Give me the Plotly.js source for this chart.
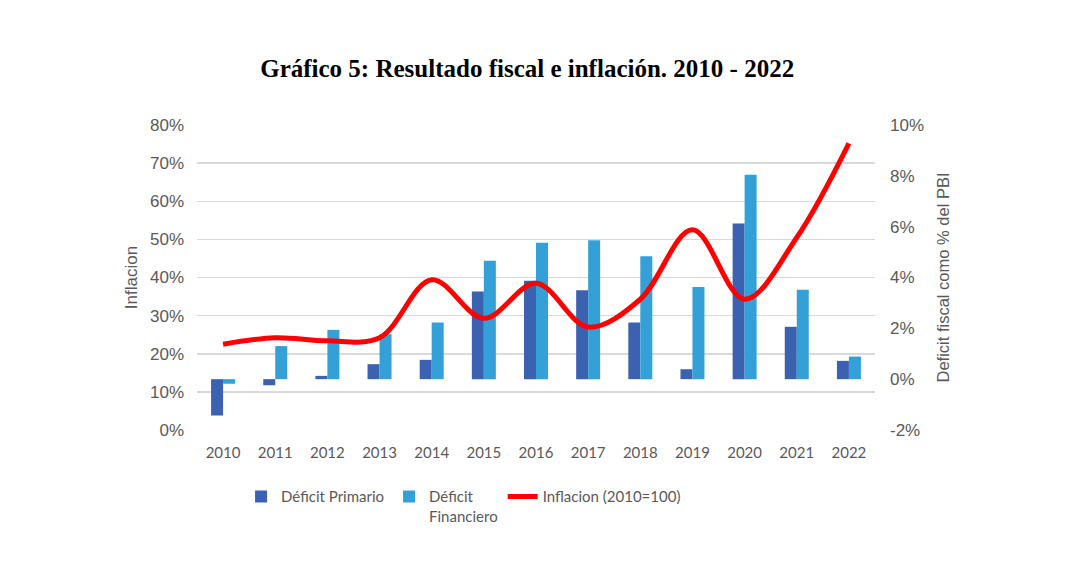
<!DOCTYPE html>
<html>
<head>
<meta charset="utf-8">
<script src="https://cdn.plot.ly/plotly-3.0.1.min.js"></script>
<style>html,body{margin:0;padding:0;background:#fff;}#chart{width:1080px;height:576px;}</style>
</head>
<body>
<div id="chart"></div>
<script>
const years = ['2010','2011','2012','2013','2014','2015','2016','2017','2018','2019','2020','2021','2022'];
const deficitPrimario = [-1.43, -0.24, 0.13, 0.59, 0.76, 3.45, 3.87, 3.50, 2.23, 0.39, 6.12, 2.06, 0.72];
const deficitFinanciero = [-0.18, 1.30, 1.94, 1.77, 2.23, 4.66, 5.37, 5.47, 4.84, 3.63, 8.04, 3.52, 0.89];
const inflacion = [22.5, 24.2, 23.4, 24.2, 39.4, 29.3, 38.5, 27.0, 34.3, 52.5, 34.3, 50.5, 75.2];
const leftTicks = [0,10,20,30,40,50,60,70,80];
const rightTicks = [-2,0,2,4,6,8,10];

const gray = '#595959';
const narrow = 'Lato, "Open Sans", sans-serif';
const arial = '"Liberation Sans", Arial, sans-serif';

const traces = [
  {type:'bar', name:'Déficit Primario', x:years, y:deficitPrimario, xaxis:'x', yaxis:'y',
   marker:{color:'#3A62B0'}},
  {type:'bar', name:'Déficit<br>Financiero', x:years, y:deficitFinanciero, xaxis:'x', yaxis:'y',
   marker:{color:'#33A0D8'}},
  {type:'scatter', mode:'lines', name:'Inflacion (2010=100)', x:years, y:inflacion, xaxis:'x', yaxis:'y2',
   line:{color:'#FF0000', width:5, shape:'spline', smoothing:1}}
];

const layout = {
  width:1080, height:576,
  paper_bgcolor:'#fff', plot_bgcolor:'#fff',
  margin:{l:197, r:205, t:125, b:146},
  barmode:'group', bargap:0.54, bargroupgap:0,
  showlegend:true,
  title:{text:'Gráfico 5: Resultado fiscal e inflación. 2010 - 2022',
    font:{family:'"Liberation Serif", "DejaVu Serif", serif', size:25, color:'#000', weight:'bold'},
    x:0.487, xanchor:'center', y:0.882, yanchor:'middle', xref:'paper'},
  xaxis:{type:'category', range:[-0.5,12.5], showgrid:false, zeroline:false, showline:false,
    ticks:'', tickfont:{family:narrow, size:15, color:gray}, ticklabelstandoff:12},
  yaxis:{side:'right', range:[-2,10], tickvals:rightTicks, ticktext:rightTicks.map(v=>v+'%'),
    showgrid:false, zeroline:false, showline:false, ticks:'',
    tickfont:{family:arial, size:17, color:gray}, ticklabelstandoff:14,
    title:{text:'Deficit fiscal como % del PBI', font:{family:arial, size:16.5, color:gray}, standoff:14}},
  yaxis2:{overlaying:'y', side:'left', range:[0,80], tickvals:leftTicks, ticktext:leftTicks.map(v=>v+'%'),
    showgrid:true, gridcolor:'#D9D9D9', gridwidth:1.5, zeroline:false, showline:false, ticks:'',
    tickfont:{family:arial, size:17, color:gray}, ticklabelstandoff:12,
    title:{text:'Inflacion', font:{family:arial, size:17, color:gray}, standoff:8}},
  legend:{orientation:'h', x:0.065, xanchor:'left', y:-0.165, yanchor:'top',
    font:{family:narrow, size:15, color:gray}, bgcolor:'rgba(0,0,0,0)', traceorder:'normal',
    valign:'top', itemwidth:30}
};

Plotly.newPlot('chart', traces, layout, {displayModeBar:false, staticPlot:true});
</script>
</body>
</html>
